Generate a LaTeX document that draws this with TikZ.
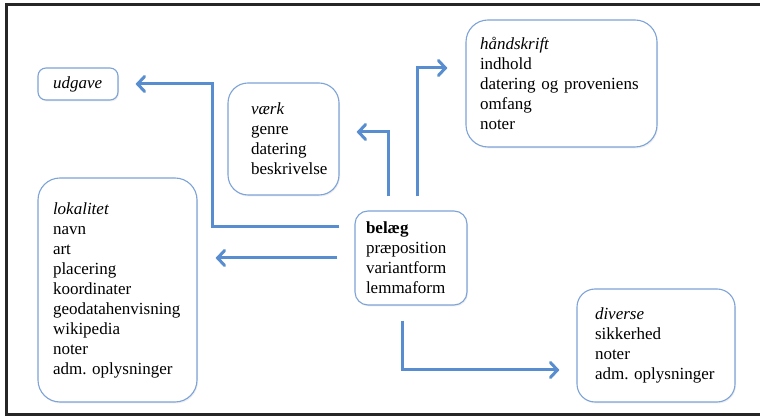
\documentclass[tikz,border=0pt]{standalone}
\usepackage{fontspec}
\setmainfont{Liberation Serif}
\usetikzlibrary{arrows.meta,shadows}
\definecolor{boxblue}{RGB}{125,163,216}
\definecolor{arrowblue}{RGB}{88,142,208}
\hyphenpenalty=10000
\exhyphenpenalty=10000
\frenchspacing
\begin{document}
\begin{tikzpicture}[x=1pt,y=1pt,
  box/.style={draw=boxblue, line width=1.1pt, fill=white, align=left,
    font=\fontsize{17}{20}\selectfont\frenchspacing, inner ysep=0pt,
    drop shadow={opacity=0.12, shadow xshift=1pt, shadow yshift=-1.5pt}},
  arr/.style={draw=arrowblue, line width=3pt,
    -{Straight Barb[length=7pt,width=15pt,line cap=round]}}]
\useasboundingbox (0,0) rectangle (760,417);
\clip (0,0) rectangle (760,417);
\fill[white] (0,0) rectangle (760,417);
\draw[line width=3pt, black!85] (6.5,412) rectangle (775,2.5);

\node[box, rounded corners=8pt, text width=50pt, inner xsep=15pt, minimum height=32pt]
  (udgave) at (78,333) {\textit{udgave}};
\node[box, rounded corners=20pt, text width=65pt, inner xsep=23pt, minimum height=112pt]
  (vaerk) at (283.5,278) {\textit{værk}\\genre\\datering\\beskrivelse};
\node[box, rounded corners=22pt, text width=163pt, inner xsep=14pt, minimum height=127pt]
  (handskrift) at (561.5,333.5) {\textit{håndskrift}\\indhold\\\mbox{datering og proveniens}\\omfang\\noter};
\node[box, rounded corners=22pt, text width=129pt, inner xsep=15pt, minimum height=224pt]
  (lokalitet) at (117.5,127) {\textit{lokalitet}\\navn\\art\\placering\\koordinater\\\mbox{geodatahenvisning}\\wikipedia\\noter\\\mbox{adm. oplysninger}};
\node[box, rounded corners=13pt, text width=90pt, inner xsep=11pt, minimum height=94pt]
  (belaeg) at (411,159) {\textbf{belæg}\\præposition\\variantform\\lemmaform};
\node[box, rounded corners=18pt, text width=122pt, inner xsep=18pt, minimum height=113pt]
  (diverse) at (656,71.5) {\textit{diverse}\\sikkerhed\\noter\\\mbox{adm. oplysninger}};

\coordinate (c1) at (212,190);
\coordinate (c3) at (388,0);
\coordinate (c4) at (417,0);
\coordinate (c5) at (402,0);

\draw[arr, shorten <=15pt, shorten >=17pt] (belaeg.west |- c1) -- (c1) |- (udgave.east);
\draw[arr, shorten <=17pt, shorten >=18pt] (belaeg.west) -- (lokalitet.east |- belaeg.west);
\draw[arr, shorten <=14pt, shorten >=17pt] (c3 |- belaeg.north) |- ([yshift=7pt]vaerk.east);
\draw[arr, shorten <=14pt, shorten >=18pt] (c4 |- belaeg.north) |- ([yshift=15.5pt]handskrift.west);
\draw[arr, shorten <=15pt, shorten >=17pt] (c5 |- belaeg.south) |- ([yshift=-24.5pt]diverse.west);
\end{tikzpicture}
\end{document}
